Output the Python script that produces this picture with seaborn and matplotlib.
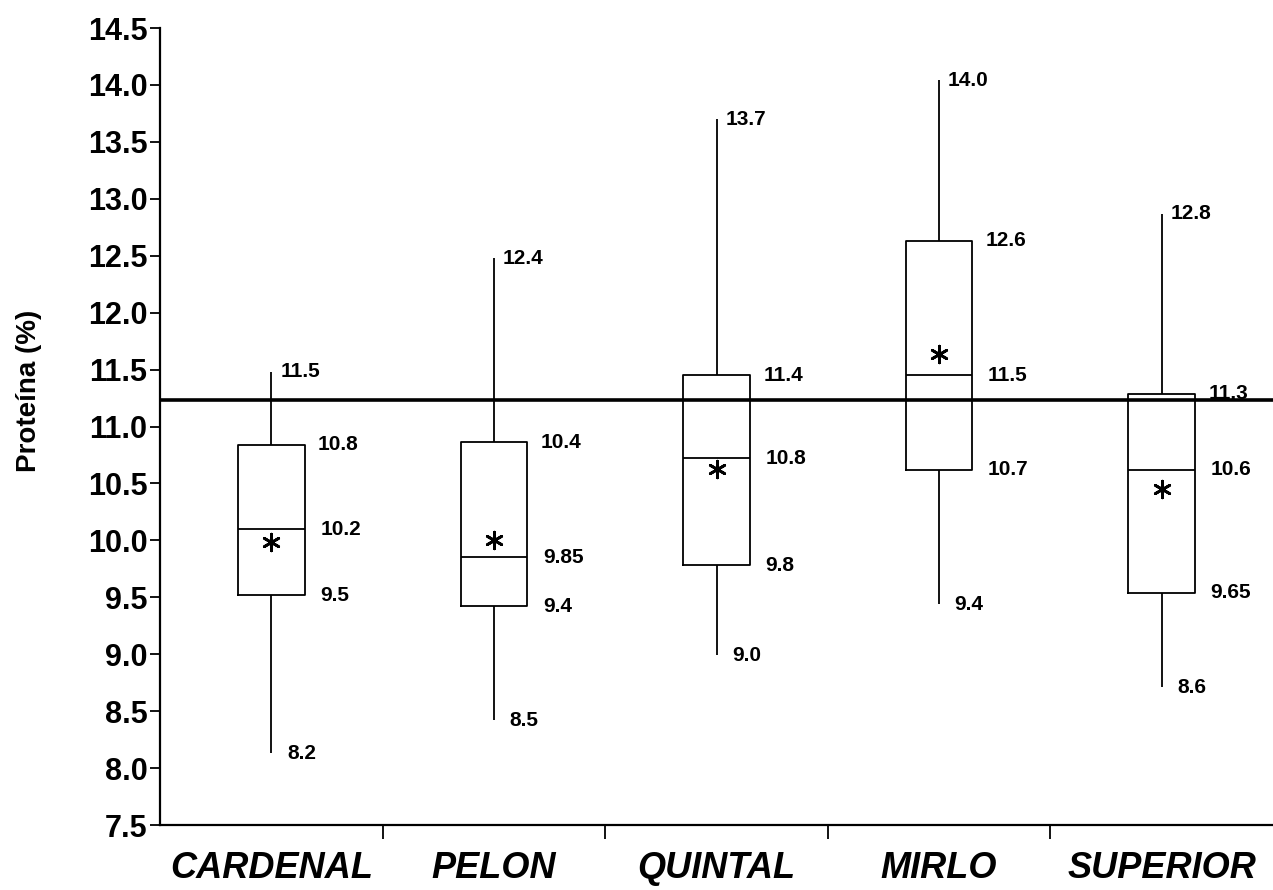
import numpy as np
import pandas as pd
import matplotlib
matplotlib.use("Agg")
import matplotlib.pyplot as plt
import seaborn as sns

# ---------------- data ----------------
categories = ["CARDENAL", "PELON", "QUINTAL", "MIRLO", "SUPERIOR"]
whisker_low = [8.13, 8.42, 8.99, 9.44, 8.71]
q1 = [9.52, 9.42, 9.78, 10.62, 9.54]
median = [10.10, 9.85, 10.72, 11.45, 10.62]
q3 = [10.84, 10.86, 11.45, 12.63, 11.29]
whisker_high = [11.48, 12.48, 13.70, 14.04, 12.87]
means = [9.99, 10.00, 10.63, 11.64, 10.45]
reference_line = 11.23

label_high = ["11.5", "12.4", "13.7", "14.0", "12.8"]
label_q3 = ["10.8", "10.4", "11.4", "12.6", "11.3"]
label_median = ["10.2", "9.85", "10.8", "11.5", "10.6"]
label_q1 = ["9.5", "9.4", "9.8", "10.7", "9.65"]
label_low = ["8.2", "8.5", "9.0", "9.4", "8.6"]

y_ticks = [7.5, 8.0, 8.5, 9.0, 9.5, 10.0, 10.5, 11.0, 11.5, 12.0, 12.5, 13.0, 13.5, 14.0, 14.5]
y_tick_labels = ["7.5", "8.0", "8.5", "9.0", "9.5", "10.0", "10.5", "11.0", "11.5",
                 "12.0", "12.5", "13.0", "13.5", "14.0", "14.5"]
y_label = "Proteína (%)"

# ---------------- styling ----------------
sns.set_style("ticks")
plt.rcParams["font.family"] = ["Liberation Sans", "DejaVu Sans"]
plt.rcParams["font.weight"] = "bold"
for k in ["text.color", "axes.labelcolor", "xtick.color", "ytick.color", "axes.edgecolor"]:
    plt.rcParams[k] = "black"

# five-number data per category so the box statistics equal the arrays
rows = []
for c, lo, a, m, b, hi in zip(categories, whisker_low, q1, median, q3, whisker_high):
    for v in (lo, a, m, b, hi):
        rows.append({"cat": c, "val": v})
df = pd.DataFrame(rows)

fig = plt.figure(figsize=(12.73, 8.90), dpi=100)
ax = fig.add_axes([0.1257, 0.073, 0.8743, 0.8955])

sns.boxplot(data=df, x="cat", y="val", order=categories, whis=(0, 100),
            width=0.3, fill=False, color="black", linewidth=1.3,
            showcaps=False, showfliers=False, ax=ax)

sns.stripplot(x=categories, y=means, order=categories, jitter=False,
              marker=(6, 2, 0), size=12, color="black", linewidth=2.0, ax=ax)

ax.axhline(reference_line, color="black", linewidth=2.6, zorder=5)

# value annotations
fs = 15
for i in range(len(categories)):
    ax.text(i + 0.04, whisker_high[i], label_high[i], fontsize=fs, fontweight="bold", va="center", ha="left")
    ax.text(i + 0.21, q3[i], label_q3[i], fontsize=fs, fontweight="bold", va="center", ha="left")
    ax.text(i + 0.22, median[i], label_median[i], fontsize=fs, fontweight="bold", va="center", ha="left")
    ax.text(i + 0.22, q1[i], label_q1[i], fontsize=fs, fontweight="bold", va="center", ha="left")
    ax.text(i + 0.07, whisker_low[i], label_low[i], fontsize=fs, fontweight="bold", va="center", ha="left")

# axes
ax.set_xlim(-0.5, 4.5)
ax.set_ylim(7.5, 14.5)
ax.set_yticks(y_ticks)
ax.set_yticklabels(y_tick_labels, fontsize=22, fontweight="bold")
ax.tick_params(axis="y", length=7, width=1.3, pad=2, color="black")

ax.set_xticks([0.5, 1.5, 2.5, 3.5])
ax.set_xticklabels([])
ax.tick_params(axis="x", which="major", length=10, width=1.3, direction="out", color="black")
ax.set_xticks(range(len(categories)), minor=True)
ax.set_xticklabels(categories, minor=True, fontsize=26, fontweight="bold", fontstyle="italic")
ax.tick_params(axis="x", which="minor", length=0, pad=19)

ax.set_xlabel("")
ax.set_ylabel(y_label, fontsize=20, fontweight="bold")
ax.yaxis.set_label_coords(-0.106, 0.545)

for s in ["top", "right"]:
    ax.spines[s].set_visible(False)
for s in ["left", "bottom"]:
    ax.spines[s].set_linewidth(1.6)
    ax.spines[s].set_color("black")

fig.savefig("out.png", dpi=100, facecolor="white")
